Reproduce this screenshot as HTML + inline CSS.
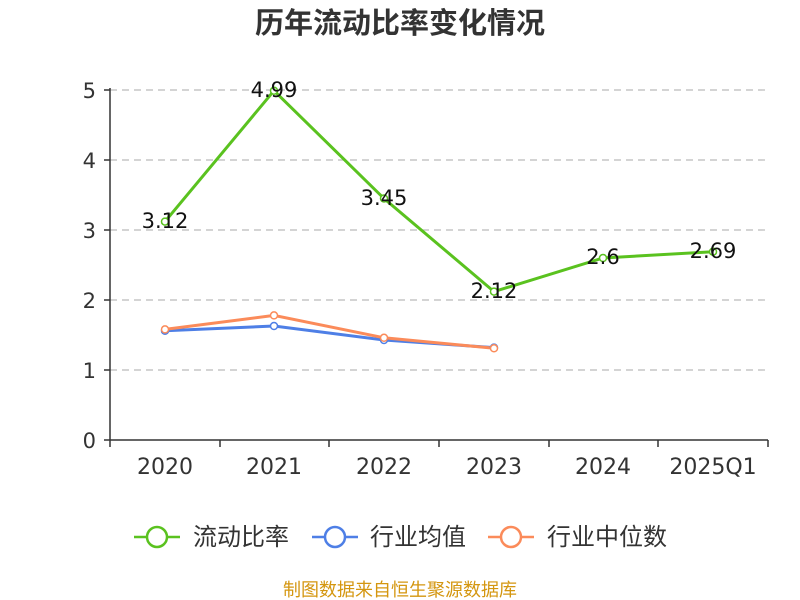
<!DOCTYPE html>
<html><head><meta charset="utf-8"><style>body{margin:0;background:#fff}svg{display:block}</style></head><body>
<svg width="800" height="600" xmlns="http://www.w3.org/2000/svg" font-family="DejaVu Sans, Noto Sans CJK SC, sans-serif">
<rect width="800" height="600" fill="#fff"/>
<text x="400" y="33" text-anchor="middle" font-size="29" font-weight="bold" fill="#333" font-family="Noto Sans CJK SC, sans-serif">历年流动比率变化情况</text>
<g stroke="#bbb" stroke-dasharray="7,5" stroke-width="1.2">
<line x1="110" y1="90" x2="768" y2="90"/><line x1="110" y1="160" x2="768" y2="160"/><line x1="110" y1="230" x2="768" y2="230"/><line x1="110" y1="300" x2="768" y2="300"/><line x1="110" y1="370" x2="768" y2="370"/>
</g>
<g stroke="#333" stroke-width="1.5">
<line x1="110" y1="88" x2="110" y2="440"/><line x1="110" y1="440" x2="768" y2="440"/>
<line x1="104" y1="90" x2="110" y2="90"/><line x1="104" y1="160" x2="110" y2="160"/><line x1="104" y1="230" x2="110" y2="230"/><line x1="104" y1="300" x2="110" y2="300"/><line x1="104" y1="370" x2="110" y2="370"/><line x1="104" y1="440" x2="110" y2="440"/>
<line x1="110" y1="440" x2="110" y2="447"/><line x1="220" y1="440" x2="220" y2="447"/><line x1="329" y1="440" x2="329" y2="447"/><line x1="439" y1="440" x2="439" y2="447"/><line x1="549" y1="440" x2="549" y2="447"/><line x1="658" y1="440" x2="658" y2="447"/><line x1="768" y1="440" x2="768" y2="447"/>
</g>
<g font-size="21" fill="#333" text-anchor="end">
<text x="96" y="98">5</text><text x="96" y="168">4</text><text x="96" y="238">3</text><text x="96" y="308">2</text><text x="96" y="378">1</text><text x="96" y="448">0</text>
</g>
<g font-size="22" fill="#333" text-anchor="middle">
<text x="165" y="474">2020</text><text x="274" y="474">2021</text><text x="384" y="474">2022</text><text x="494" y="474">2023</text><text x="603" y="474">2024</text><text x="713" y="474">2025Q1</text>
</g>
<polyline fill="none" stroke="#4e7fe6" stroke-width="3" points="165,330.8 274,326 384,340 494,347.6"/>
<polyline fill="none" stroke="#fb8b5a" stroke-width="3" points="165,329.4 274,315.4 384,337.8 494,348.3"/>
<polyline fill="none" stroke="#5ac21f" stroke-width="3" points="165,221.6 274,90.7 384,198.5 494,291.6 603,258 713,251.7"/>
<g fill="#fff" stroke-width="1.5">
<circle cx="165" cy="330.8" r="3.5" stroke="#4e7fe6"/><circle cx="274" cy="326" r="3.5" stroke="#4e7fe6"/><circle cx="384" cy="340" r="3.5" stroke="#4e7fe6"/><circle cx="494" cy="347.6" r="3.5" stroke="#4e7fe6"/>
<circle cx="165" cy="329.4" r="3.5" stroke="#fb8b5a"/><circle cx="274" cy="315.4" r="3.5" stroke="#fb8b5a"/><circle cx="384" cy="337.8" r="3.5" stroke="#fb8b5a"/><circle cx="494" cy="348.3" r="3.5" stroke="#fb8b5a"/>
<circle cx="165" cy="221.6" r="3.5" stroke="#5ac21f"/><circle cx="274" cy="90.7" r="3.5" stroke="#5ac21f"/><circle cx="384" cy="198.5" r="3.5" stroke="#5ac21f"/><circle cx="494" cy="291.6" r="3.5" stroke="#5ac21f"/><circle cx="603" cy="258" r="3.5" stroke="#5ac21f"/><circle cx="713" cy="251.7" r="3.5" stroke="#5ac21f"/>
</g>
<g font-size="21" fill="#111" text-anchor="middle">
<text x="165" y="228">3.12</text><text x="274" y="97">4.99</text><text x="384" y="205">3.45</text><text x="494" y="298">2.12</text><text x="603" y="264">2.6</text><text x="713" y="258">2.69</text>
</g>
<g stroke-width="2.5" fill="#fff">
<line x1="134" y1="537" x2="180" y2="537" stroke="#5ac21f"/><circle cx="157" cy="537" r="10" stroke="#5ac21f"/>
<line x1="312" y1="537" x2="358" y2="537" stroke="#4e7fe6"/><circle cx="335" cy="537" r="10" stroke="#4e7fe6"/>
<line x1="488" y1="537" x2="534" y2="537" stroke="#fb8b5a"/><circle cx="511" cy="537" r="10" stroke="#fb8b5a"/>
</g>
<g font-size="24" fill="#333" font-family="Noto Sans CJK SC, sans-serif">
<text x="193" y="545">流动比率</text><text x="370" y="545">行业均值</text><text x="547" y="545">行业中位数</text>
</g>
<text x="400" y="596" text-anchor="middle" font-size="18" fill="#d4960f" font-family="Noto Sans CJK SC, sans-serif">制图数据来自恒生聚源数据库</text>
</svg>
</body></html>
